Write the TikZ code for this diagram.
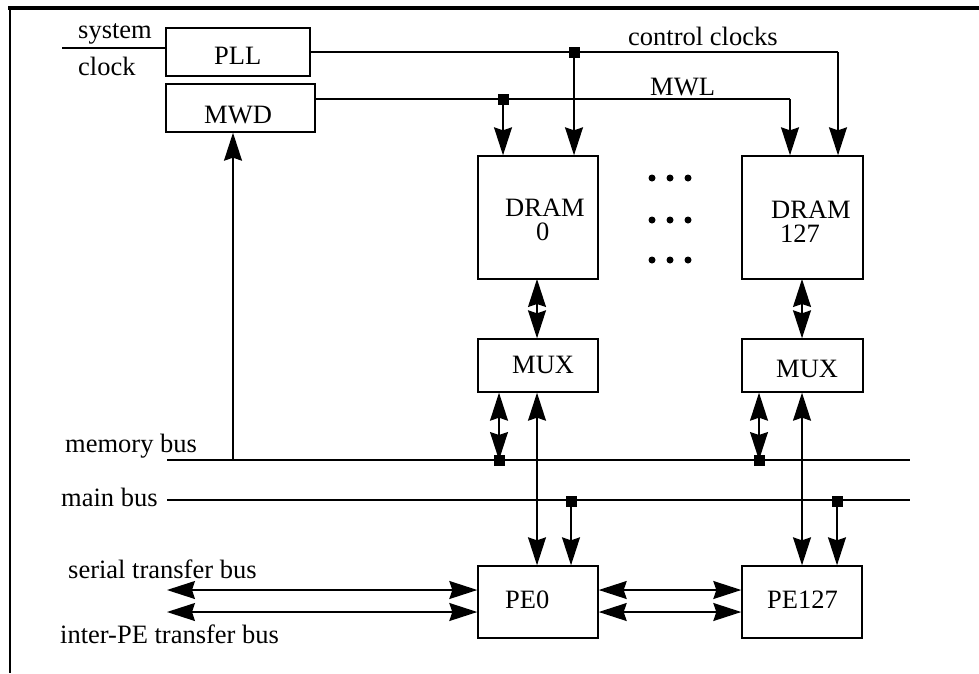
\documentclass[tikz,border=0pt]{standalone}
\usepackage{fontspec}
\setmainfont{Liberation Serif}
\usetikzlibrary{arrows.meta}
\begin{document}
\begin{tikzpicture}[x=1pt,y=-1pt,
  box/.style={draw,line width=1.4pt,inner sep=0pt,minimum width=#1},
  txt/.style={anchor=base west,inner sep=0pt,font=\fontsize{26.5}{30}\selectfont},
  wire/.style={line width=1.3pt},
  bus/.style={line width=1.7pt},
  tip/.tip={Stealth[length=28pt,width=18pt,inset=3pt]},
  arr/.style={wire,-tip},
  arrs/.style={wire,tip-tip},
  junc/.style={fill=black,draw=none,minimum size=11pt,inner sep=0pt},
  dot/.style={circle,fill=black,inner sep=0pt,minimum size=7pt}]
\useasboundingbox (0,0) rectangle (979,673);

% outer frame (top and left edges)
\draw[line width=3.2pt] (8,8) -- (979,8);
\draw[line width=2.6pt] (10,8) -- (10,673);

% blocks
\node[box=144pt,minimum height=48pt] (pll) at (238,52) {};
\node[box=149pt,minimum height=48pt] (mwd) at (240.5,108) {};
\node[box=120pt,minimum height=123pt] (dram0) at (538,217.5) {};
\node[box=121pt,minimum height=123pt] (dram127) at (802.5,217.5) {};
\node[box=120pt,minimum height=53pt] (mux0) at (538,365.5) {};
\node[box=121pt,minimum height=53pt] (mux127) at (802.5,365.5) {};
\node[box=120pt,minimum height=72pt] (pe0) at (538,602) {};
\node[box=120pt,minimum height=72pt] (pe127) at (802,602) {};

% block labels
\node[txt] (tpll) at (214,64) {PLL};
\node[txt] (tmwd) at (204,123) {MWD};
\node[txt] (tdram0) at (505,216) {DRAM};
\node[txt] (tdram0n) at (536,240) {0};
\node[txt] (tdram127) at (771,218) {DRAM};
\node[txt] (tdram127n) at (780,242) {127};
\node[txt] (tmux0) at (512,373) {MUX};
\node[txt] (tmux127) at (776,377) {MUX};
\node[txt] (tpe0) at (505,608) {PE0};
\node[txt] (tpe127) at (767,608) {PE127};

% signal labels
\node[txt] (lsys) at (78,38) {system};
\node[txt] (lclk) at (78,75) {clock};
\node[txt] (lcc) at (628,45) {control clocks};
\node[txt] (lmwl) at (650,95) {MWL};
\node[txt] (lmem) at (65,452) {memory bus};
\node[txt] (lmain) at (61,506) {main bus};
\node[txt] (lser) at (68,578) {serial transfer bus};
\node[txt] (linter) at (60,643) {inter-PE transfer bus};

% ellipsis between the DRAM columns
\foreach \yy in {178,220,260}{
  \foreach \xx in {652,670,688}{
    \node[dot] at (\xx,\yy) {};
  }
}

% system clock input
\coordinate (sc) at (62,48);
\draw[wire] (sc) -- (sc -| pll.west);

% control clocks from PLL
\coordinate (ccr) at (838,52);
\coordinate (ccj) at (574,52);
\draw[wire] (pll.east) -- (ccr);
\draw[arr] (ccr) -- (ccr |- dram127.north);
\draw[arr] (ccj) -- (ccj |- dram0.north);
\node[junc] at (ccj) {};

% MWL from MWD
\coordinate (mwo) at (315,99);
\coordinate (mwr) at (790,99);
\coordinate (mwj) at (503,99);
\draw[wire] (mwo) -- (mwr);
\draw[arr] (mwr) -- (mwr |- dram127.north);
\draw[arr] (mwj) -- (mwj |- dram0.north);
\node[junc] at (mwj) {};

% DRAM <-> MUX
\coordinate (dm0) at (537,279);
\coordinate (dm1) at (802,279);
\draw[arrs] (dm0) -- (dm0 |- mux0.north);
\draw[arrs] (dm1) -- (dm1 |- mux127.north);

% buses
\coordinate (memL) at (167,460);
\coordinate (memR) at (910,460);
\coordinate (mainL) at (167,500);
\coordinate (mainR) at (910,500);
\draw[bus] (memL) -- (memR);
\draw[bus] (mainL) -- (mainR);

% memory bus -> MWD
\coordinate (mwdin) at (233,460);
\draw[arr] (mwdin) -- (mwdin |- mwd.south);

% MUX <-> memory bus
\coordinate (mb0) at (499,460);
\coordinate (mb1) at (759,460);
\draw[arrs] (mb0 |- mux0.south) -- (mb0);
\draw[arrs] (mb1 |- mux127.south) -- (mb1);
\node[junc] at (mb0) {};
\node[junc] at (mb1) {};

% MUX <-> PE
\coordinate (mp0) at (537,500);
\coordinate (mp1) at (802,500);
\draw[arrs] (mp0 |- mux0.south) -- (mp0 |- pe0.north);
\draw[arrs] (mp1 |- mux127.south) -- (mp1 |- pe127.north);

% main bus -> PE
\coordinate (pb0) at (571,501);
\coordinate (pb1) at (837,501);
\draw[arr] (pb0) -- (pb0 |- pe0.north);
\draw[arr] (pb1) -- (pb1 |- pe127.north);
\node[junc] at (pb0) {};
\node[junc] at (pb1) {};

% transfer buses
\coordinate (ser) at (167,590);
\coordinate (ipe) at (167,612);
\draw[arrs] (ser) -- (ser -| pe0.west);
\draw[arrs] (ipe) -- (ipe -| pe0.west);
\coordinate (l1) at (598,590);
\coordinate (l2) at (598,612);
\draw[arrs] (l1 -| pe0.east) -- (l1 -| pe127.west);
\draw[arrs] (l2 -| pe0.east) -- (l2 -| pe127.west);
\end{tikzpicture}
\end{document}
